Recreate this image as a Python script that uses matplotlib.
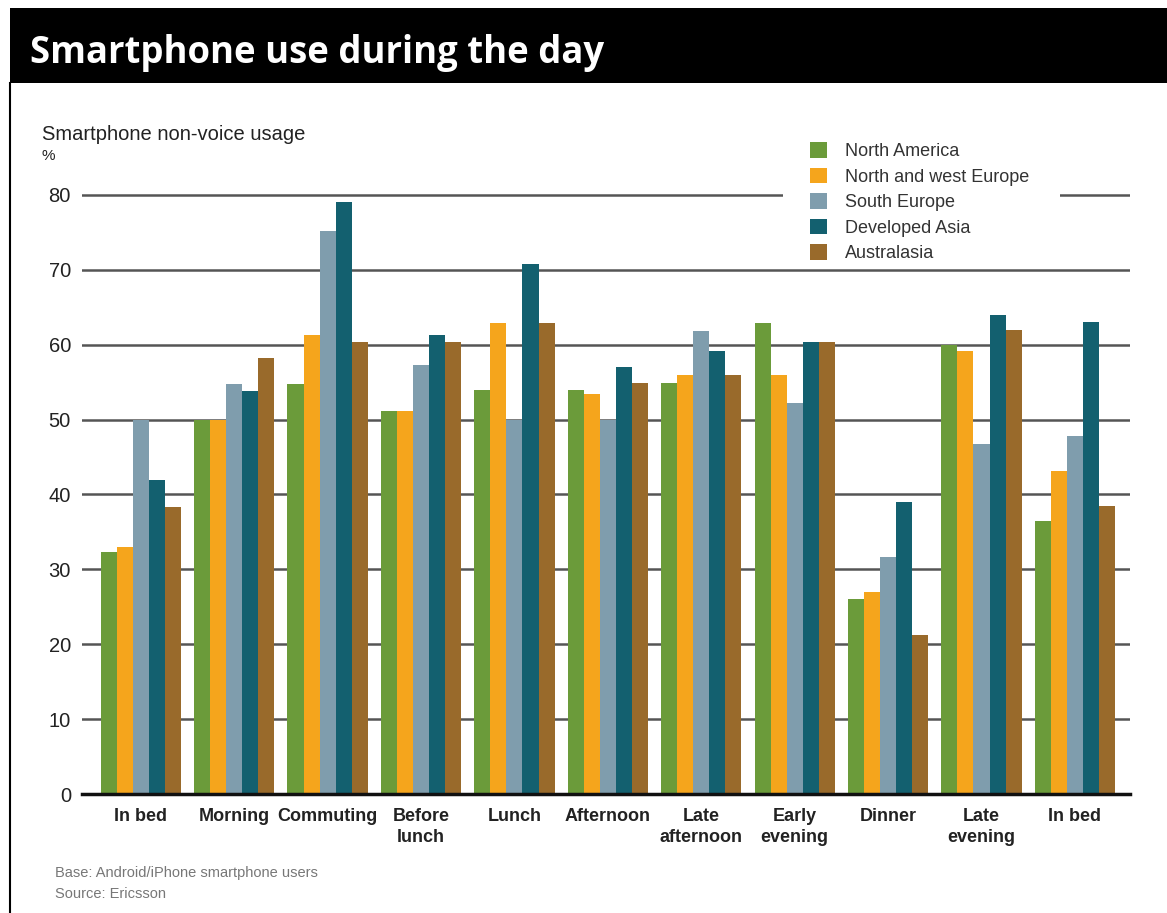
import numpy as np
import matplotlib.pyplot as plt
from matplotlib.patches import Rectangle, Patch
from matplotlib.lines import Line2D

plt.rcParams['font.family'] = ['Liberation Sans Narrow', 'Liberation Sans', 'DejaVu Sans']

# Data
periods = ['In bed', 'Morning', 'Commuting', 'Before\nlunch', 'Lunch', 'Afternoon',
           'Late\nafternoon', 'Early\nevening', 'Dinner', 'Late\nevening', 'In bed']
regions = ['North America', 'North and west Europe', 'South Europe', 'Developed Asia', 'Australasia']
north_america = [32.3, 50.0, 54.8, 51.1, 53.9, 53.9, 54.9, 62.9, 26.0, 60.0, 36.4]
nw_europe = [33.0, 50.0, 61.3, 51.1, 62.9, 53.4, 55.9, 55.9, 27.0, 59.1, 43.2]
south_europe = [50.0, 54.8, 75.2, 57.3, 50.0, 50.0, 61.9, 52.2, 31.7, 46.8, 47.8]
developed_asia = [42.0, 53.8, 79.0, 61.3, 70.8, 57.0, 59.2, 60.3, 39.0, 64.0, 63.0]
australasia = [38.3, 58.2, 60.3, 60.3, 62.9, 54.9, 55.9, 60.3, 21.3, 62.0, 38.4]
colors = ['#6b9b3a', '#f5a51c', '#7f9dad', '#13606f', '#996a2b']

series = [north_america, nw_europe, south_europe, developed_asia, australasia]

fig = plt.figure(figsize=(11.67, 9.13), dpi=100)

# black title band and left border
fig.patches.append(Rectangle((10 / 1167, 1 - 83 / 913), 1, 75 / 913, transform=fig.transFigure,
                             facecolor='black', edgecolor='none', zorder=0))
fig.add_artist(Line2D([10 / 1167, 10 / 1167], [0, 1 - 83 / 913], transform=fig.transFigure,
                      color='black', lw=1.5))
fig.text(30 / 1167, 1 - 63 / 913, 'Smartphone use during the day', color='white',
         fontsize=26.3, fontweight='bold', family=['Open Sans', 'DejaVu Sans'], va='baseline')

ax = fig.add_axes([82 / 1167, 1 - 794 / 913, (1130 - 82) / 1167, 614 / 913])
x = np.arange(len(periods))
w = 0.172
for i, (vals, c) in enumerate(zip(series, colors)):
    ax.bar(x + (i - 2) * w, vals, width=w, color=c, zorder=2, label=regions[i])

ax.set_xlim(-0.63, 10.59)
ax.set_ylim(0, 82)
ax.set_yticks(range(0, 81, 10))
ax.grid(axis='y', color='#555555', lw=1.8, zorder=1)
ax.set_axisbelow(True)
for s in ['top', 'right', 'left']:
    ax.spines[s].set_visible(False)
ax.spines['bottom'].set_linewidth(2.5)
ax.spines['bottom'].set_color('#111111')
ax.tick_params(axis='y', length=0, pad=8, labelsize=14.5, labelcolor='#222222')
ax.tick_params(axis='x', length=0, pad=10)
ax.set_xticks(x)
ax.set_xticklabels(periods, fontsize=13, fontweight='bold', color='#222222', linespacing=1.3)

# white area behind the legend (breaks the top gridline)
ax.add_patch(Rectangle((783 / 1167, 1 - 266 / 913), 277 / 1167, 130 / 913, transform=fig.transFigure,
                       facecolor='white', edgecolor='none', zorder=1.5, clip_on=False))

fig.text(42 / 1167, 1 - 140 / 913, 'Smartphone non-voice usage', fontsize=14.5, color='#222222',
         va='baseline')
fig.text(42 / 1167, 1 - 160 / 913, '%', fontsize=11, color='#222222', va='baseline')

handles = [Patch(facecolor=c, edgecolor='none') for c in colors]
leg = ax.legend(handles, regions, loc='upper left', bbox_to_anchor=(810 / 1167, 1 - 142 / 913),
                bbox_transform=fig.transFigure, frameon=False, fontsize=13,
                handlelength=0.95, handleheight=0.95, handletextpad=1.0, labelspacing=0.42,
                borderpad=0, borderaxespad=0)
leg.set_zorder(5)
for t in leg.get_texts():
    t.set_color('#333333')

fig.text(55 / 1167, 1 - 877 / 913, 'Base: Android/iPhone smartphone users', fontsize=10.5,
         color='#777777', va='baseline')
fig.text(55 / 1167, 1 - 898 / 913, 'Source: Ericsson', fontsize=10.5, color='#777777',
         va='baseline')

fig.savefig('out.png', dpi=100)
